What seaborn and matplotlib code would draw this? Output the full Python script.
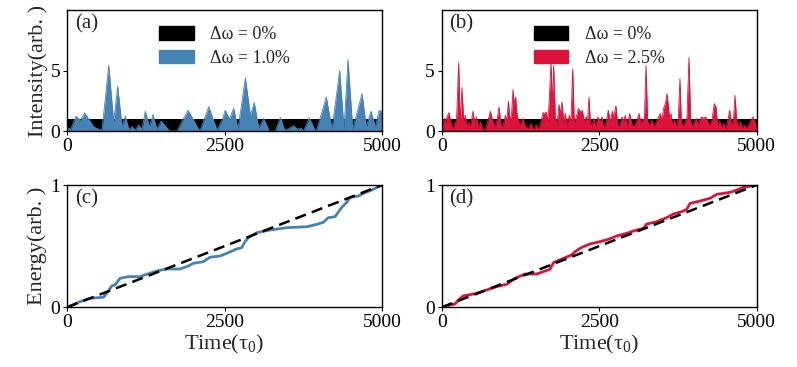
import matplotlib
matplotlib.use("Agg")
import matplotlib.pyplot as plt
from matplotlib.patches import Patch
import seaborn as sns
import pandas as pd
import numpy as np

# ---------------- data ----------------
# (a) intensity, delta omega = 1.0 %
t_a = [0, 60, 143, 211, 281, 423, 503, 556, 608, 662, 714, 741, 804, 873, 926, 979, 1032,
       1085, 1138, 1190, 1243, 1307, 1365, 1424, 1497, 1614, 1667, 1746, 1921,
       2090, 2116, 2249, 2381, 2460, 2513, 2577, 2646, 2714, 2831, 2910, 2973,
       3042, 3122, 3210, 3307, 3386, 3455, 3520, 3598, 3660, 3710, 3757, 3847,
       3942, 3968, 4116, 4206, 4328, 4397, 4460, 4535, 4683, 4751, 4825, 4894,
       4957, 5000]
i_a = [0.3, 0.15, 1.23, 0.85, 1.5, 0.35, 0.15, 0.15, 2.7, 5.46, 2.3, 0.77, 3.69, 0.35, 1.23,
       0.15, 0.35, 0.08, 0.5, 0.15, 1.64, 0.35, 1.37, 0.15, 0.82, 0.08, 0.0, 0.0,
       1.72, 0.15, 0.08, 2.0, 0.08, 0.9, 1.72, 0.98, 1.86, 0.16, 4.37, 1.31, 2.35,
       0.27, 1.04, 0.0, 0.0, 1.12, 0.08, 0.2, 0.44, 0.15, 0.25, 0.0, 1.09, 0.0,
       0.2, 2.81, 0.15, 5.0, 0.15, 5.9, 0.15, 3.09, 0.35, 1.64, 0.35, 1.72, 1.6]

# (b) intensity, delta omega = 2.5 %
t_b = [0, 42, 68, 84, 116, 137, 164, 190, 216, 232, 269, 296, 322, 349, 375, 402,
       428, 455, 497, 523, 550, 581, 613, 656, 693, 730, 772, 814, 851, 878, 910,
       941, 973, 1010, 1036, 1058, 1089, 1111, 1132, 1153, 1174, 1195, 1222, 1248,
       1290, 1328, 1380, 1417, 1460, 1502, 1539, 1576, 1608, 1634, 1661, 1687,
       1708, 1735, 1756, 1777, 1804, 1830, 1862, 1883, 1910, 1936, 1962, 1989,
       2026, 2052, 2079, 2105, 2137, 2169, 2201, 2232, 2264, 2296, 2317, 2338,
       2359, 2386, 2412, 2444, 2476, 2518, 2544, 2571, 2613, 2645, 2677, 2708,
       2730, 2767, 2793, 2825, 2862, 2888, 2915, 2941, 2984, 3021, 3058, 3100,
       3132, 3163, 3195, 3216, 3243, 3269, 3301, 3338, 3375, 3407, 3444, 3470,
       3497, 3523, 3550, 3576, 3597, 3618, 3640, 3661, 3693, 3724, 3756, 3782,
       3804, 3830, 3867, 3894, 3925, 3952, 3978, 4010, 4042, 4068, 4095, 4126,
       4158, 4190, 4222, 4253, 4290, 4327, 4354, 4380, 4412, 4444, 4476, 4507,
       4539, 4571, 4597, 4629, 4656, 4682, 4708, 4740, 4772, 4804, 4835, 4872,
       4909, 4941, 4978, 5000]
i_b = [0.35, 1.04, 0.77, 1.17, 1.53, 0.9, 0.35, 0.22, 0.77, 0.35, 5.63, 0.5, 3.6,
       0.77, 1.31, 0.35, 0.77, 0.35, 1.64, 0.63, 1.17, 0.35, 0.77, 0.08, 0.15,
       0.77, 1.64, 0.77, 0.35, 0.9, 2.0, 0.5, 0.35, 1.31, 0.9, 2.46, 0.77, 1.58,
       3.44, 2.13, 2.81, 1.45, 0.77, 0.5, 1.04, 0.35, 0.22, 0.63, 0.08, 0.5,
       0.16, 0.77, 1.53, 1.45, 1.58, 0.77, 2.68, 5.68, 2.13, 5.41, 1.04, 0.5,
       2.19, 1.45, 2.4, 0.77, 1.45, 0.5, 1.31, 0.77, 5.14, 0.63, 1.17, 1.86,
       1.58, 1.72, 0.77, 1.17, 0.9, 2.81, 0.77, 0.35, 1.04, 0.35, 1.17, 0.77,
       1.17, 0.22, 0.77, 1.72, 0.77, 1.64, 1.17, 2.08, 0.5, 0.35, 1.17, 0.77,
       1.31, 0.35, 1.45, 0.5, 0.35, 0.9, 1.45, 0.63, 1.04, 0.77, 5.41, 0.77,
       0.5, 0.9, 0.35, 0.77, 1.17, 1.45, 0.9, 1.86, 2.27, 3.09, 2.13, 1.04,
       1.45, 0.5, 0.9, 0.35, 1.04, 4.32, 0.77, 0.35, 0.77, 1.17, 6.09, 0.77,
       0.35, 0.77, 1.04, 0.5, 0.9, 1.17, 1.04, 1.17, 0.77, 0.5, 0.9, 2.27,
       2.0, 0.5, 0.77, 0.35, 0.63, 0.16, 0.77, 1.72, 0.63, 0.77, 2.95, 0.9,
       0.35, 0.77, 0.22, 0.5, 0.22, 0.5, 0.9, 1.17, 0.63, 0.35]

# constant reference intensity, delta omega = 0 %
t_ref = [0, 5000]
i_ref = [1.0, 1.0]

# (c) energy, delta omega = 1.0 %
t_c = [0, 206, 365, 577, 630, 709, 762, 841, 974, 1159, 1264, 1423, 1582, 1794,
       1926, 2005, 2164, 2270, 2429, 2534, 2693, 2773, 2826, 2879, 3011, 3170,
       3329, 3487, 3805, 3964, 4069, 4149, 4255, 4360, 4440, 4493, 4625, 4731,
       4863, 5000]
e_c = [0.0, 0.046, 0.074, 0.082, 0.114, 0.174, 0.183, 0.237, 0.251, 0.251, 0.27,
       0.297, 0.313, 0.313, 0.338, 0.36, 0.373, 0.409, 0.42, 0.441, 0.477, 0.488,
       0.537, 0.57, 0.61, 0.627, 0.64, 0.651, 0.659, 0.678, 0.695, 0.733, 0.741,
       0.817, 0.858, 0.899, 0.91, 0.937, 0.965, 1.0]

# (d) energy, delta omega = 2.5 %
t_d = [0, 132, 212, 265, 344, 556, 715, 873, 1032, 1165, 1323, 1508, 1614, 1720,
       1773, 1932, 2064, 2117, 2222, 2355, 2513, 2645, 2778, 2937, 3043, 3201,
       3254, 3413, 3572, 3678, 3810, 3890, 3943, 4101, 4260, 4366, 4578, 4683,
       4789, 5000]
e_d = [0.0, 0.019, 0.027, 0.06, 0.093, 0.114, 0.142, 0.169, 0.188, 0.237, 0.272,
       0.272, 0.292, 0.311, 0.365, 0.40, 0.428, 0.455, 0.49, 0.518, 0.537, 0.556,
       0.583, 0.605, 0.624, 0.646, 0.681, 0.70, 0.733, 0.763, 0.782, 0.801, 0.85,
       0.869, 0.891, 0.924, 0.94, 0.959, 0.981, 1.0]

# reference energy (uniform growth)
t_eref = [0, 5000]
e_eref = [0.0, 1.0]

x_ticks = [0, 2500, 5000]
x_ticklabels = ["0", "2500", "5000"]

# ---------------- styling ----------------
sns.set_style("ticks")
plt.rcParams["font.family"] = ["Liberation Serif", "DejaVu Serif"]
plt.rcParams["mathtext.fontset"] = "custom"
plt.rcParams["mathtext.rm"] = "Liberation Serif"
plt.rcParams["mathtext.it"] = "Liberation Serif:italic"
plt.rcParams["xtick.direction"] = "out"
plt.rcParams["ytick.direction"] = "out"

BLUE = "#4682b4"
RED = "#dc143c"

fig = plt.figure(figsize=(7.97, 3.67), dpi=100)
W = 0.3952
ax_a = fig.add_axes([0.0841, 0.643, W, 0.3297])
ax_b = fig.add_axes([0.5542, 0.643, W, 0.3297])
ax_c = fig.add_axes([0.0841, 0.1627, W, 0.3332])
ax_d = fig.add_axes([0.5542, 0.1627, W, 0.3332])

TICK_FS = 14
LABEL_FS = 16


def style_axis(ax):
    for s in ax.spines.values():
        s.set_linewidth(1.0)
        s.set_color("black")
    ax.tick_params(axis="both", labelsize=TICK_FS, length=3, width=0.8,
                   pad=2, colors="black")
    ax.set_xlim(0, 5000)
    ax.set_xticks(x_ticks)
    ax.set_xticklabels(x_ticklabels)


def intensity_panel(ax, t, i, color, label, tag):
    ax.fill_between(t_ref, 0, i_ref, color="black", linewidth=0)
    ax.fill_between(t, 0, i, color=color, linewidth=0)
    sns.lineplot(x=t, y=i, ax=ax, color=color, linewidth=0.6, estimator=None,
                 sort=False)
    ax.set_ylim(0, 10)
    ax.set_yticks([0, 5])
    ax.set_yticklabels(["0", "5"])
    style_axis(ax)
    handles = [Patch(facecolor="black", edgecolor="black", label="Δω = 0%"),
               Patch(facecolor=color, edgecolor=color, label=label)]
    ax.legend(handles=handles, loc="upper center", bbox_to_anchor=(0.5, 1.0),
              frameon=False, fontsize=13, handlelength=1.9, handleheight=0.75,
              handletextpad=0.9, labelspacing=0.35)
    ax.text(0.025, 0.965, tag, transform=ax.transAxes, fontsize=15,
            va="top", ha="left")


def energy_panel(ax, t, e, color, tag):
    sns.lineplot(x=t, y=e, ax=ax, color=color, linewidth=2.0, estimator=None,
                 sort=False)
    sns.lineplot(x=t_eref, y=e_eref, ax=ax, color="black", linewidth=1.8,
                 linestyle=(0, (4.5, 2.5)), estimator=None)
    ax.set_ylim(0, 1)
    ax.set_yticks([0, 1])
    ax.set_yticklabels(["0", "1"])
    style_axis(ax)
    ax.set_xlabel("Time(τ$_0$)", fontsize=LABEL_FS, labelpad=1)
    ax.text(0.025, 0.965, tag, transform=ax.transAxes, fontsize=15,
            va="top", ha="left")


intensity_panel(ax_a, t_a, i_a, BLUE, "Δω = 1.0%", "(a)")
intensity_panel(ax_b, t_b, i_b, RED, "Δω = 2.5%", "(b)")
energy_panel(ax_c, t_c, e_c, BLUE, "(c)")
energy_panel(ax_d, t_d, e_d, RED, "(d)")

ax_a.set_ylabel("Intensity(arb. )", fontsize=LABEL_FS, labelpad=2)
ax_c.set_ylabel("Energy(arb. )", fontsize=LABEL_FS, labelpad=2)
ax_a.set_xlabel("")
ax_b.set_xlabel("")
ax_b.set_ylabel("")
ax_d.set_ylabel("")

fig.savefig("out.png", dpi=100)
